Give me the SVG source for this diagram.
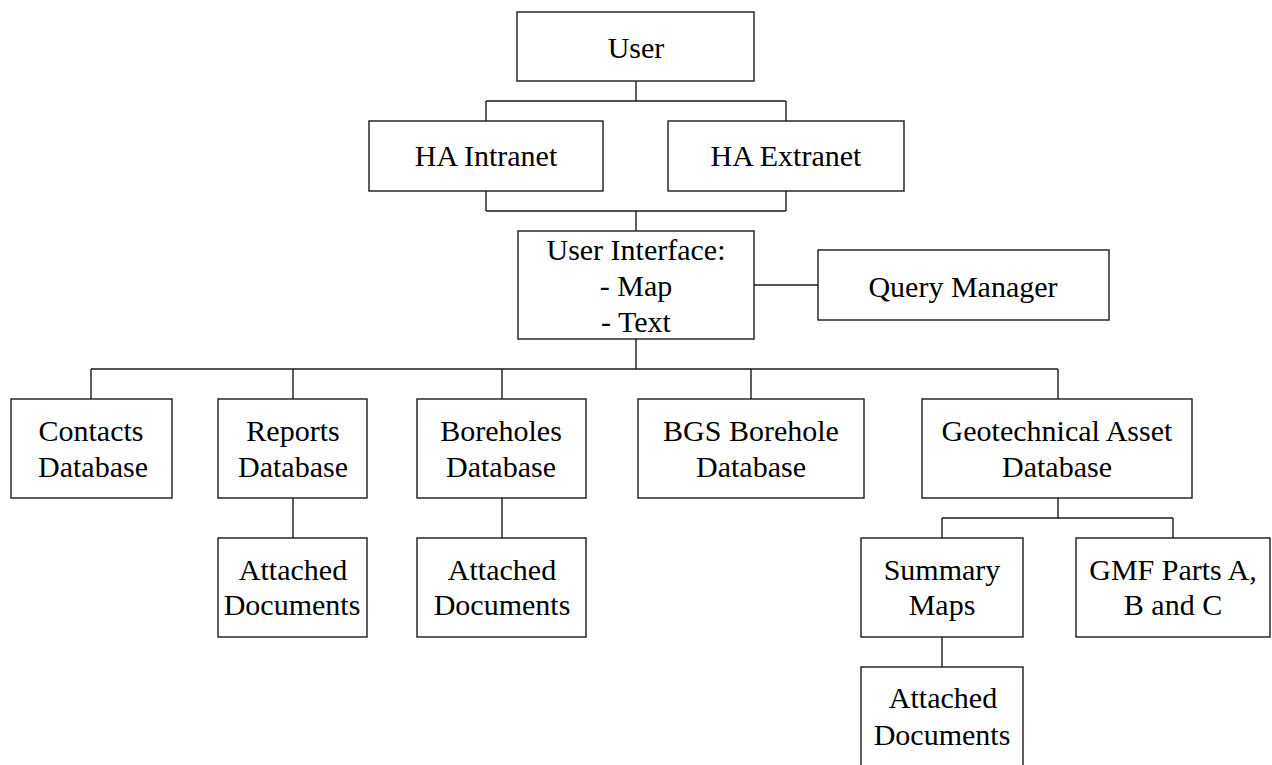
<svg xmlns="http://www.w3.org/2000/svg" width="1272" height="765" viewBox="0 0 1272 765">
  <style>
    .box { fill: #ffffff; stroke: #1a1a1a; stroke-width: 1.4; }
    .wire { fill: none; stroke: #1a1a1a; stroke-width: 1.4; }
  </style>
  <rect width="1272" height="765" fill="#ffffff"/>

  <g id="connectors">
    <path class="wire" d="M636 81 V101 M486 101 H786 M486 101 V121 M786 101 V121"/>
    <path class="wire" d="M486 191 V211 M786 191 V211 M486 211 H786 M636 211 V231"/>
    <path class="wire" d="M754 285 H818"/>
    <path class="wire" d="M636 339 V369 M91 369 H1058 M91 369 V399 M293 369 V399 M502 369 V399 M751 369 V399 M1058 369 V399"/>
    <path class="wire" d="M293 498 V538 M502 498 V538"/>
    <path class="wire" d="M1058 498 V518 M942 518 H1173 M942 518 V538 M1173 518 V538"/>
    <path class="wire" d="M942 637 V667"/>
  </g>

  <g id="nodes" font-family="Liberation Serif" font-size="30" fill="#000000" text-anchor="middle">
    <g id="user">
      <rect class="box" x="517" y="12" width="237" height="69"/>
      <text x="636" y="58">User</text>
    </g>
    <g id="ha-intranet">
      <rect class="box" x="369" y="121" width="234" height="70"/>
      <text x="486" y="166">HA Intranet</text>
    </g>
    <g id="ha-extranet">
      <rect class="box" x="668" y="121" width="236" height="70"/>
      <text x="786" y="166">HA Extranet</text>
    </g>
    <g id="user-interface">
      <rect class="box" x="518" y="231" width="236" height="108"/>
      <text x="636" y="260">User Interface:</text>
      <text x="636" y="296">- Map</text>
      <text x="636" y="332">- Text</text>
    </g>
    <g id="query-manager">
      <rect class="box" x="818" y="250" width="291" height="70"/>
      <text x="963" y="297">Query Manager</text>
    </g>
    <g id="contacts-db">
      <rect class="box" x="11" y="399" width="161" height="99"/>
      <text x="91" y="441">Contacts</text>
      <text x="93" y="477">Database</text>
    </g>
    <g id="reports-db">
      <rect class="box" x="218" y="399" width="149" height="99"/>
      <text x="293" y="441">Reports</text>
      <text x="293" y="477">Database</text>
    </g>
    <g id="boreholes-db">
      <rect class="box" x="417" y="399" width="169" height="99"/>
      <text x="501" y="441">Boreholes</text>
      <text x="501" y="477">Database</text>
    </g>
    <g id="bgs-borehole-db">
      <rect class="box" x="638" y="399" width="226" height="99"/>
      <text x="751" y="441">BGS Borehole</text>
      <text x="751" y="477">Database</text>
    </g>
    <g id="geotechnical-asset-db">
      <rect class="box" x="922" y="399" width="270" height="99"/>
      <text x="1057" y="441">Geotechnical Asset</text>
      <text x="1057" y="477">Database</text>
    </g>
    <g id="reports-attached">
      <rect class="box" x="218" y="538" width="149" height="99"/>
      <text x="293" y="580">Attached</text>
      <text x="292" y="615">Documents</text>
    </g>
    <g id="boreholes-attached">
      <rect class="box" x="417" y="538" width="169" height="99"/>
      <text x="502" y="580">Attached</text>
      <text x="502" y="615">Documents</text>
    </g>
    <g id="summary-maps">
      <rect class="box" x="861" y="538" width="162" height="99"/>
      <text x="942" y="580">Summary</text>
      <text x="942" y="615">Maps</text>
    </g>
    <g id="gmf-parts">
      <rect class="box" x="1076" y="538" width="194" height="99"/>
      <text x="1173" y="580">GMF Parts A,</text>
      <text x="1173" y="615">B and C</text>
    </g>
    <g id="summary-attached">
      <rect class="box" x="861" y="667" width="162" height="110"/>
      <text x="943" y="708">Attached</text>
      <text x="942" y="745">Documents</text>
    </g>
  </g>
</svg>
